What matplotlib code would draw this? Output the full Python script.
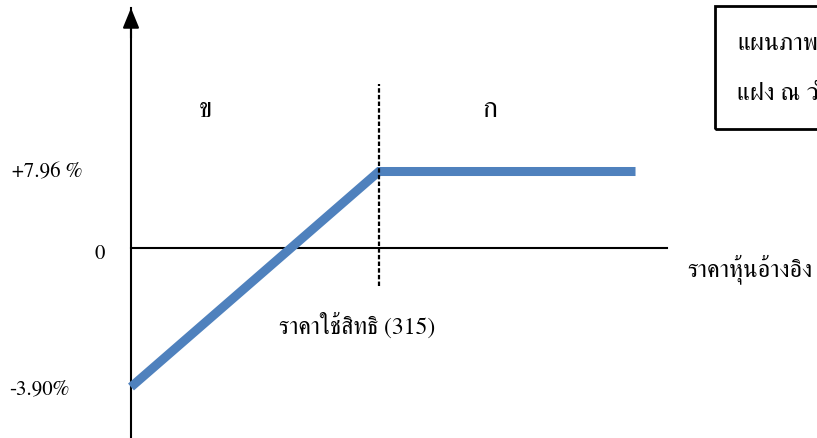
import numpy as np
import matplotlib
matplotlib.use("Agg")
import matplotlib.pyplot as plt
from matplotlib.patches import Rectangle

plt.rcParams["font.family"] = ["FreeSerif", "Liberation Serif", "DejaVu Serif"]

# ── data ─────────────────────────────────────────────
strike = 315
price = [0, 315, 641]                # underlying price (schematic)
payoff = [-3.90, 7.96, 7.96]         # return in %
level_labels = ["+7.96 %", "0", "-3.90%"]
level_values = [7.96, 0, -3.90]
zone_labels = ["ข", "ก"]
zone_x = [94, 456]
box_lines = ["แผนภาพแสดงผลตอบแทนของหุ้นกู้อนุพันธ์", "แฝง ณ วันครบกำหนดอายุ"]

# schematic y-axis: negative side is stretched, not to scale
K_POS, K_NEG = 9.61, 35.64

def fwd(y):
    y = np.asarray(y, dtype=float)
    return np.where(y >= 0, y * K_POS, y * K_NEG)

def inv(v):
    v = np.asarray(v, dtype=float)
    return np.where(v >= 0, v / K_POS, v / K_NEG)

W, H = 817, 439
fig = plt.figure(figsize=(W / 100, H / 100), dpi=100)
ax = fig.add_axes([131 / W, 0, (667 - 131) / W, 1 - 9 / H])
ax.set_yscale("function", functions=(fwd, inv))
ax.set_xlim(0, 681)
ax.set_ylim(-190 / K_NEG, 240 / K_POS)

for s in ["top", "right"]:
    ax.spines[s].set_visible(False)
ax.spines["left"].set_position(("data", 0))
ax.spines["bottom"].set_position(("data", 0))
ax.spines["left"].set_linewidth(1.5)
ax.spines["bottom"].set_linewidth(1.5)
ax.set_xticks([])
ax.set_yticks([])
ax.minorticks_off()
ax.patch.set_visible(False)

# arrow head on the y axis
ax.annotate("", xy=(0, 1), xytext=(0, 0.93), xycoords=ax.get_xaxis_transform(),
            arrowprops=dict(arrowstyle="-|>,head_length=1.22,head_width=0.5",
                            mutation_scale=10, color="black", lw=1.5,
                            shrinkA=0, shrinkB=0))

# payoff line
ax.plot(price, payoff, color="#4f81bd", lw=6.5, solid_capstyle="butt",
        solid_joinstyle="miter", clip_on=False, zorder=3)

# strike marker
ax.plot([strike, strike], [-1.07, 17.07], color="black", lw=1.6,
        dashes=(2.0, 1.0), zorder=4)

# level labels on the y axis
offsets = [(-35, 0), (-19, -4), (-44, -1)]
for lab, val, off in zip(level_labels, level_values, offsets):
    ax.annotate(lab, xy=(0, val), xytext=off, textcoords="offset points",
                ha="right", va="center", fontsize=15, annotation_clip=False)

for lab, xv in zip(zone_labels, zone_x):
    ax.text(xv, 14.4, lab, ha="center", va="center", fontsize=20)

ax.text(strike - 28, -2.15, f"ราคาใช้สิทธิ ({strike})", ha="center", va="center", fontsize=17)
fig.text(687 / W, 1 - 269 / H, "ราคาหุ้นอ้างอิง", ha="left", va="center", fontsize=17.5)

# caption box, cut off by the right edge as in the source
fig.patches.append(Rectangle((715 / W, 1 - 130 / H), 0.5, 123 / H, transform=fig.transFigure,
                             fill=False, lw=2, edgecolor="black"))
fig.text(737 / W, 1 - 43 / H, box_lines[0], ha="left", va="center", fontsize=18)
fig.text(737 / W, 1 - 93 / H, box_lines[1], ha="left", va="center", fontsize=18)

fig.savefig("out.png", dpi=100)
